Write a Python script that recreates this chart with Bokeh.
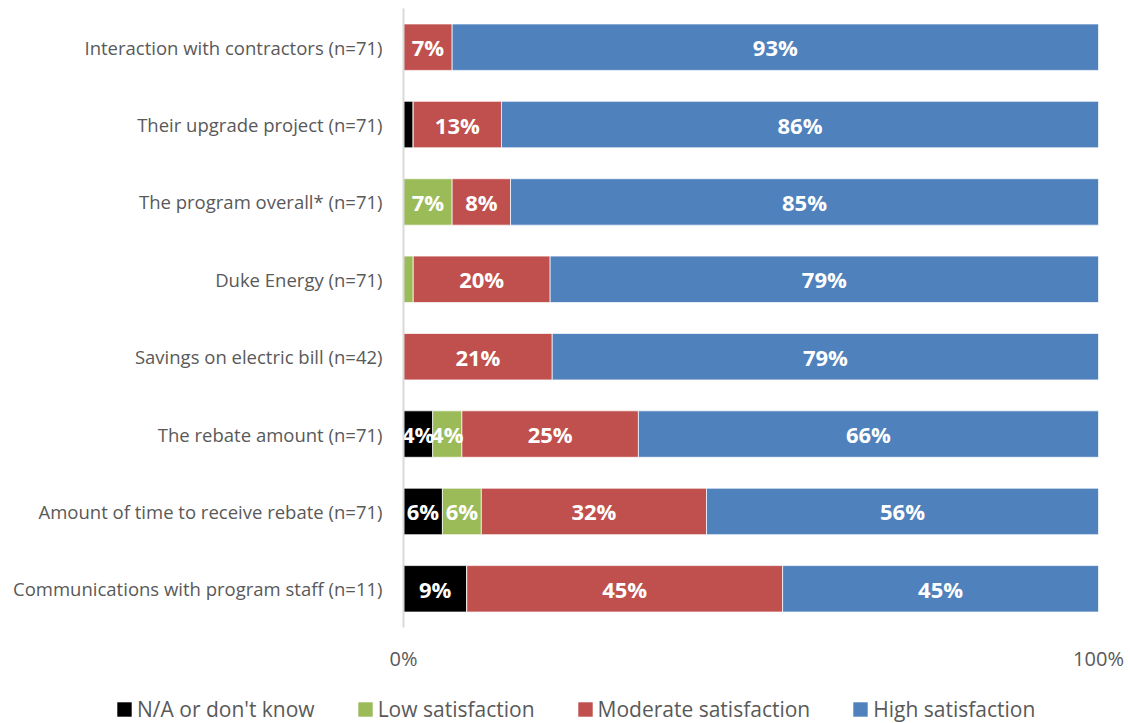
from bokeh.plotting import figure
from bokeh.layouts import column
from bokeh.models import ColumnDataSource, FactorRange, FixedTicker, Legend, LegendItem
from bokeh.core.properties import value
from bokeh.embed import file_html
from bokeh.resources import INLINE

categories = [
    "Interaction with contractors (n=71)",
    "Their upgrade project (n=71)",
    "The program overall* (n=71)",
    "Duke Energy (n=71)",
    "Savings on electric bill (n=42)",
    "The rebate amount (n=71)",
    "Amount of time to receive rebate (n=71)",
    "Communications with program staff (n=11)",
]
na_dont_know = [0.0, 1.4, 0.0, 0.0, 0.0, 4.2, 5.6, 9.1]
low_sat = [0.0, 0.0, 7.0, 1.4, 0.0, 4.2, 5.6, 0.0]
moderate_sat = [7.0, 12.7, 8.4, 19.7, 21.4, 25.4, 32.4, 45.45]
high_sat = [93.0, 85.9, 84.6, 78.9, 78.6, 66.2, 56.4, 45.45]

series_names = ["N/A or don't know", "Low satisfaction", "Moderate satisfaction", "High satisfaction"]
series_values = [na_dont_know, low_sat, moderate_sat, high_sat]
series_colors = ["#000000", "#9BBB59", "#C0504D", "#4F81BD"]

FONT = "Open Sans"

p = figure(
    width=1130, height=680,
    y_range=FactorRange(factors=list(reversed(categories))),
    x_range=(0, 100),
    output_backend="svg", toolbar_location=None,
    min_border_left=403, min_border_right=32, min_border_top=8, min_border_bottom=53,
)
p.outline_line_color = None
p.grid.visible = False

base = [0.0] * len(categories)
lbl_x, lbl_y, lbl_t = [], [], []
for name, vals, col in zip(series_names, series_values, series_colors):
    left = list(base)
    right = [b + v for b, v in zip(base, vals)]
    src = ColumnDataSource(dict(y=categories, left=left, right=right))
    p.hbar(y="y", left="left", right="right", height=0.6, source=src,
           fill_color=col, line_color="white", line_width=0.7)
    for c, l, rr, v in zip(categories, left, right, vals):
        if v >= 3:
            lbl_x.append((l + rr) / 2)
            lbl_y.append(c)
            lbl_t.append(f"{int(v + 0.5)}%")
    base = right

lsrc = ColumnDataSource(dict(x=lbl_x, y=lbl_y, t=lbl_t))
p.text(x="x", y="y", text="t", source=lsrc, text_color="white",
       text_font=value(FONT), text_font_style="bold", text_font_size="22px",
       text_align="center", text_baseline="middle")

# axes
p.yaxis.axis_line_color = "#D9D9D9"
p.yaxis.axis_line_width = 2
p.yaxis.major_tick_line_color = None
p.yaxis.minor_tick_line_color = None
p.yaxis.major_label_text_font = FONT
p.yaxis.major_label_text_font_size = "18.5px"
p.yaxis.major_label_text_color = "#595959"
p.yaxis.major_label_standoff = 15

p.xaxis.ticker = FixedTicker(ticks=[0, 100])
p.xaxis.major_label_overrides = {0: "0%", 100: "100%"}
p.xaxis.axis_line_color = None
p.xaxis.major_tick_line_color = None
p.xaxis.minor_tick_line_color = None
p.xaxis.major_label_text_font = FONT
p.xaxis.major_label_text_font_size = "20px"
p.xaxis.major_label_text_color = "#595959"
p.xaxis.major_label_standoff = 11

# legend in its own strip below the chart
lg = figure(
    width=1130, height=43, x_range=(0, 10), y_range=(0, 10),
    output_backend="svg", toolbar_location=None,
    x_axis_type=None, y_axis_type=None,
    min_border_left=0, min_border_right=0, min_border_top=0, min_border_bottom=0,
)
lg.frame_align = False
lg.outline_line_color = None
lg.grid.visible = False
items = []
for name, col in zip(series_names, series_colors):
    r = lg.hbar(y=[-50], left=[-50], right=[-49], height=1, fill_color=col, line_color=None)
    items.append(LegendItem(label=name, renderers=[r]))

legend = Legend(
    items=items, orientation="horizontal", location=(115, 0),
    border_line_color=None, background_fill_alpha=0,
    padding=0, margin=0, spacing=41, label_standoff=4,
    glyph_width=18, glyph_height=18,
    label_text_font=FONT, label_text_font_size="21px", label_text_color="#595959",
)
lg.add_layout(legend, "center")

layout = column(p, lg, spacing=0)
open("out.html", "w").write(file_html(layout, INLINE))
